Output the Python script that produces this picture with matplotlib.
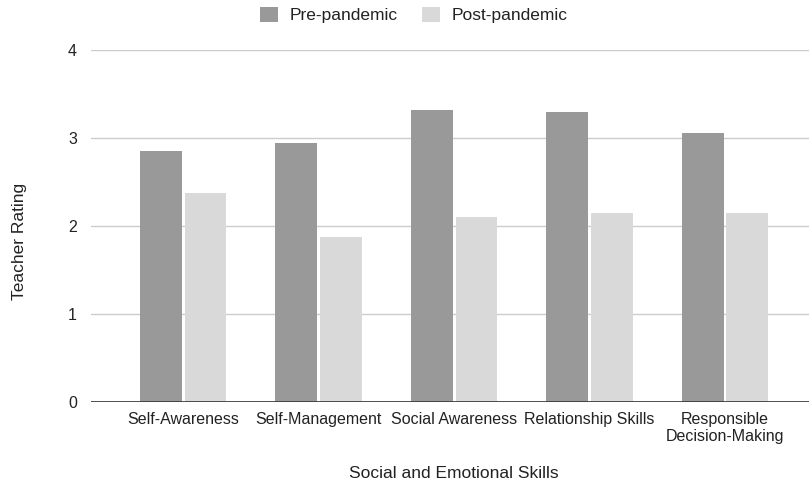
import matplotlib
matplotlib.use("Agg")
import matplotlib.pyplot as plt
from matplotlib.patches import Patch
import numpy as np

plt.rcParams['font.family'] = ['Liberation Sans', 'DejaVu Sans']

categories = ["Self-Awareness", "Self-Management", "Social Awareness",
              "Relationship Skills", "Responsible\nDecision-Making"]
pre_pandemic = [2.85, 2.94, 3.32, 3.30, 3.06]
post_pandemic = [2.37, 1.88, 2.10, 2.15, 2.15]
series_names = ["Pre-pandemic", "Post-pandemic"]
y_ticks = [0, 1, 2, 3, 4]

pre_color = "#999999"
post_color = "#d9d9d9"
text_color = "#222222"

fig = plt.figure(figsize=(8.09, 4.83), dpi=100)
ax = fig.add_axes([0.1125, 0.1677, 0.8875, 0.7288])

x = np.arange(len(categories))
width = 0.308
offset = 0.165
ax.bar(x - offset, pre_pandemic, width, color=pre_color, zorder=3)
ax.bar(x + offset, post_pandemic, width, color=post_color, zorder=3)

ax.set_ylim(0, 4)
ax.set_xlim(-0.68, 4.62)
ax.set_yticks(y_ticks)
ax.set_xticks(x)
ax.set_xticklabels(categories)
ax.tick_params(axis='both', length=0, labelsize=11.5, colors=text_color)
ax.tick_params(axis='x', pad=7)
ax.tick_params(axis='y', pad=10)

ax.yaxis.grid(True, color="#cccccc", linewidth=1, zorder=0)
ax.axhline(0, color="#333333", linewidth=1.2, zorder=4)
for s in ax.spines.values():
    s.set_visible(False)

fig.text(0.0235, 0.5, "Teacher Rating", fontsize=12.5, color=text_color,
         rotation=90, ha='center', va='center')
fig.text(0.561, 0.019, "Social and Emotional Skills", fontsize=12.5,
         color=text_color, ha='center', va='center')

handles = [Patch(facecolor=pre_color, edgecolor='none'),
           Patch(facecolor=post_color, edgecolor='none')]
fig.legend(handles, series_names, loc='center', bbox_to_anchor=(0.5117, 0.969),
           ncol=2, frameon=False, fontsize=12.5, handlelength=1.0, handleheight=1.0,
           columnspacing=1.4, handletextpad=0.7, labelcolor=text_color)

fig.savefig("out.png", dpi=100)
